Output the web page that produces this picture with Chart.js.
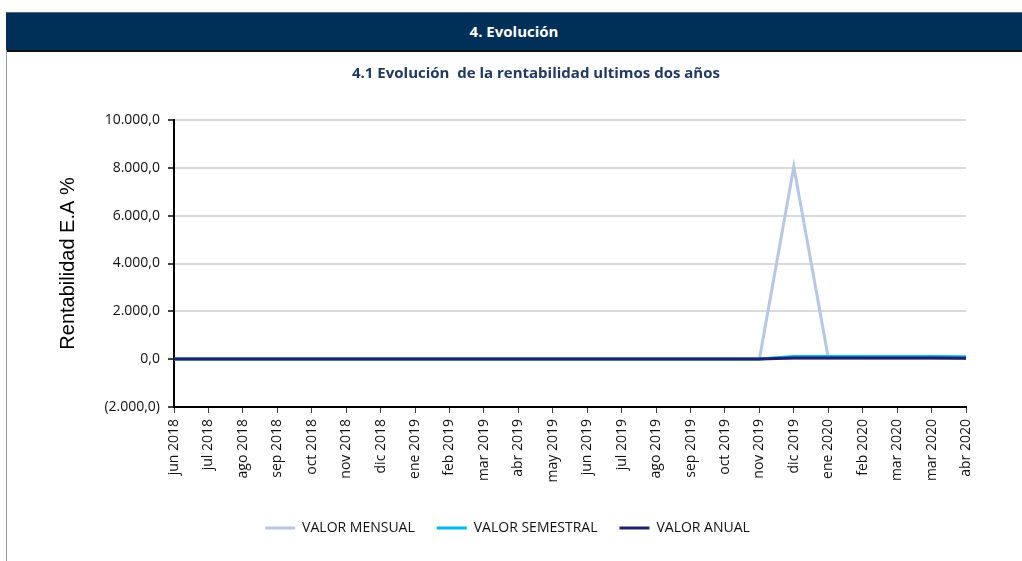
<!DOCTYPE html>
<html>
<head>
<meta charset="utf-8">
<script src="https://cdn.jsdelivr.net/npm/chart.js@4/dist/chart.umd.min.js"></script>
<style>
    body { margin: 0; background: #fff; width: 1022px; height: 561px; overflow: hidden; position: relative; font-family: "Open Sans", sans-serif; }
    #header {
        position: absolute; left: 6px; top: 12px; width: 1016px; height: 37px;
        background: #003057; border-top: 1px solid #5a6a7a; border-bottom: 2px solid #111;
        color: #fff; font-weight: bold; font-size: 15px; text-align: center; line-height: 36px;
    }
    #frame { position: absolute; left: 6px; top: 50px; width: 1px; height: 511px; background: #999; }
    #subtitle {
        position: absolute; left: 0; top: 62px; width: 1072px; text-align: center;
        color: #1f3864; font-weight: bold; font-size: 15px;
    }
    #wrap { position: absolute; left: 0; top: 0; width: 1022px; height: 561px; }
</style>
</head>
<body>
<div id="wrap"><canvas id="evolucionChart" width="1022" height="561"></canvas></div>
<div id="header">4. Evolución</div>
<div id="frame"></div>
<div id="subtitle">4.1 Evolución&nbsp; de la rentabilidad ultimos dos años</div>
<script>
const meses = [
    "jun 2018", "jul 2018", "ago 2018", "sep 2018", "oct 2018", "nov 2018",
    "dic 2018", "ene 2019", "feb 2019", "mar 2019", "abr 2019", "may 2019",
    "jun 2019", "jul 2019", "ago 2019", "sep 2019", "oct 2019", "nov 2019",
    "dic 2019", "ene 2020", "feb 2020", "mar 2020", "mar 2020", "abr 2020"
];

const valorMensual = [
    4, 3, 5, 4, 3, 4, 5, 4, 3, 4, 4, 3,
    4, 5, 4, 3, 4, 5, 8050, 60, 55, 50, 45, 40
];

const valorSemestral = [
    4, 4, 4, 4, 4, 4, 4, 4, 4, 4, 4, 4,
    4, 4, 4, 4, 4, 4, 115, 112, 110, 108, 108, 105
];

const valorAnual = [
    4, 4, 4, 4, 4, 4, 4, 4, 4, 4, 4, 4,
    4, 4, 4, 4, 4, 4, 45, 45, 45, 44, 44, 43
];

function formatValor(v) {
    const txt = Math.abs(v).toFixed(1).replace(".", ",")
        .replace(/\B(?=(\d{3})+(?!\d))/g, ".");
    return v < 0 ? `(${txt})` : txt;
}

new Chart(
    document.getElementById("evolucionChart"),
    {
        type: "line",

        data: {
            labels: meses,

            datasets: [
                {
                    label: "VALOR MENSUAL",
                    data: valorMensual,
                    borderColor: "#b4c7e7",
                    backgroundColor: "#b4c7e7",
                    order: 2
                },
                {
                    label: "VALOR SEMESTRAL",
                    data: valorSemestral,
                    borderColor: "#00b8f2",
                    backgroundColor: "#00b8f2",
                    order: 1
                },
                {
                    label: "VALOR ANUAL",
                    data: valorAnual,
                    borderColor: "#1f1f6b",
                    backgroundColor: "#1f1f6b",
                    order: 0
                }
            ]
        },

        options: {
            responsive: false,
            animation: false,
            devicePixelRatio: 1,
            elements: {
                line: { borderWidth: 3, tension: 0 },
                point: { radius: 0 }
            },
            layout: {
                padding: { top: 120, right: 56, bottom: 16, left: 49 }
            },
            plugins: {
                tooltip: { enabled: false },
                legend: {
                    position: "bottom",
                    labels: {
                        boxWidth: 30,
                        boxHeight: 3,
                        padding: 22,
                        color: "#111",
                        font: { family: "Open Sans", size: 14 },
                        sort: (a, b) => a.datasetIndex - b.datasetIndex,
                        generateLabels: chart =>
                            Chart.defaults.plugins.legend.labels.generateLabels(chart)
                                .map(item => ({ ...item, lineWidth: 0, fillStyle: item.strokeStyle }))
                    }
                }
            },
            scales: {
                x: {
                    offset: false,
                    afterFit: scale => { scale.height = 92; },
                    border: { color: "#000", width: 2 },
                    grid: {
                        drawOnChartArea: false,
                        drawTicks: true,
                        tickLength: 6,
                        tickColor: "#444"
                    },
                    ticks: {
                        autoSkip: false,
                        minRotation: 90,
                        maxRotation: 90,
                        padding: 6,
                        color: "#111",
                        font: { family: "Open Sans", size: 14 }
                    }
                },
                y: {
                    min: -2000,
                    max: 10000,
                    afterFit: scale => { scale.width = 125; },
                    border: { color: "#000", width: 2 },
                    grid: {
                        color: "#d9d9d9",
                        lineWidth: 2,
                        tickLength: 6,
                        tickColor: "#444"
                    },
                    ticks: {
                        stepSize: 2000,
                        padding: 8,
                        color: "#111",
                        font: { family: "Open Sans", size: 14 },
                        callback: value => formatValor(value)
                    },
                    title: {
                        display: true,
                        text: "Rentabilidad E.A %",
                        color: "#000",
                        padding: { top: 7, bottom: 0 },
                        font: { family: "Liberation Sans", size: 20 }
                    }
                }
            }
        }
    }
);
</script>
</body>
</html>
